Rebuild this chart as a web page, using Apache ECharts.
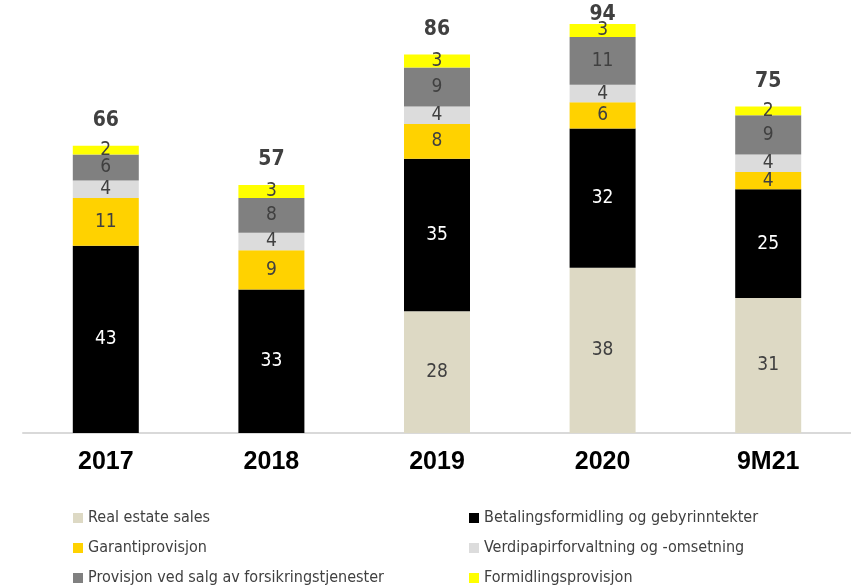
<!DOCTYPE html>
<html>
<head>
<meta charset="utf-8">
<script src="https://cdn.jsdelivr.net/npm/echarts@6/dist/echarts.min.js"></script>
<style>
  html, body { margin: 0; padding: 0; background: #ffffff; }
  #chart { width: 851px; height: 587px; }
</style>
</head>
<body>
<div id="chart"></div>
<script>
// Periods on the x axis
const categories = ['2017', '2018', '2019', '2020', '9M21'];

// Commission income by type (NOK million), stacked bottom to top
const realEstate   = [0, 0, 28, 38, 31];
const betaling     = [43, 33, 35, 32, 25];
const garanti      = [11, 9, 8, 6, 4];
const verdipapir   = [4, 4, 4, 4, 4];
const forsikring   = [6, 8, 9, 11, 9];
const formidling   = [2, 3, 3, 3, 2];

// Reported totals shown above each column
const totals = [66, 57, 86, 94, 75];

const seriesDefs = [
  { name: 'Real estate sales', data: realEstate, color: '#DDD9C4', text: '#404040' },
  { name: 'Betalingsformidling og gebyrinntekter', data: betaling, color: '#000000', text: '#ffffff' },
  { name: 'Garantiprovisjon', data: garanti, color: '#FFD200', text: '#404040' },
  { name: 'Verdipapirforvaltning og -omsetning', data: verdipapir, color: '#DCDCDC', text: '#404040' },
  { name: 'Provisjon ved salg av forsikringstjenester', data: forsikring, color: '#808080', text: '#404040' },
  { name: 'Formidlingsprovisjon', data: formidling, color: '#FFFF00', text: '#404040' }
];

const condensed = '"DejaVu Sans Condensed", "Liberation Sans Narrow", sans-serif';

const series = seriesDefs.map(s => ({
  name: s.name,
  type: 'bar',
  stack: 'total',
  barWidth: 66,
  itemStyle: { color: s.color },
  label: {
    show: true,
    position: 'inside',
    color: s.text,
    fontFamily: condensed,
    fontSize: 19,
    formatter: p => (p.value ? String(p.value) : '')
  },
  emphasis: { disabled: true },
  data: s.data.map(v => (v === 0 ? '-' : v))
}));

// Column heights for placing the total labels
const stackTops = categories.map((_, i) =>
  seriesDefs.reduce((sum, s) => sum + s.data[i], 0)
);

series.push({
  name: 'Total',
  type: 'scatter',
  symbol: 'rect',
  symbolSize: 1,
  itemStyle: { color: 'rgba(0,0,0,0)', opacity: 1 },
  silent: true,
  z: 1,
  label: {
    show: true,
    position: 'top',
    distance: 14,
    color: '#404040',
    fontFamily: condensed,
    fontWeight: 'bold',
    fontSize: 21,
    formatter: p => String(totals[p.dataIndex])
  },
  labelLayout: { hideOverlap: false },
  data: stackTops.map((v, i) => (i === 3 ? { value: v, label: { distance: -2 } } : v))
});

const legendText = { color: '#404040', fontFamily: condensed, fontSize: 16 };

// One legend entry per slot: two columns, three rows
const legendSlots = [
  { name: 'Real estate sales', left: 73, top: 510 },
  { name: 'Betalingsformidling og gebyrinntekter', left: 469, top: 510 },
  { name: 'Garantiprovisjon', left: 73, top: 540 },
  { name: 'Verdipapirforvaltning og -omsetning', left: 469, top: 540 },
  { name: 'Provisjon ved salg av forsikringstjenester', left: 73, top: 570 },
  { name: 'Formidlingsprovisjon', left: 469, top: 570 }
];

const chart = echarts.init(document.getElementById('chart'), null, { renderer: 'canvas' });
chart.setOption({
  animation: false,
  backgroundColor: '#ffffff',
  grid: { left: 23, width: 832, top: 0, height: 433, containLabel: false },
  xAxis: {
    type: 'category',
    data: categories,
    axisLine: { lineStyle: { color: '#D9D9D9', width: 2 } },
    axisTick: { show: false },
    axisLabel: {
      color: '#000000',
      fontFamily: '"Liberation Sans", Arial, sans-serif',
      fontWeight: 'bold',
      fontSize: 25,
      margin: 17
    }
  },
  yAxis: {
    type: 'value',
    min: 0,
    max: 99.5,
    show: false,
    splitLine: { show: false }
  },
  legend: legendSlots.map(slot => ({
    left: slot.left,
    top: slot.top,
    padding: 0,
    itemWidth: 10,
    itemHeight: 10,
    itemGap: 0,
    icon: 'rect',
    textStyle: legendText,
    data: [slot.name],
    selectedMode: false
  })),
  series: series
});
</script>
</body>
</html>
